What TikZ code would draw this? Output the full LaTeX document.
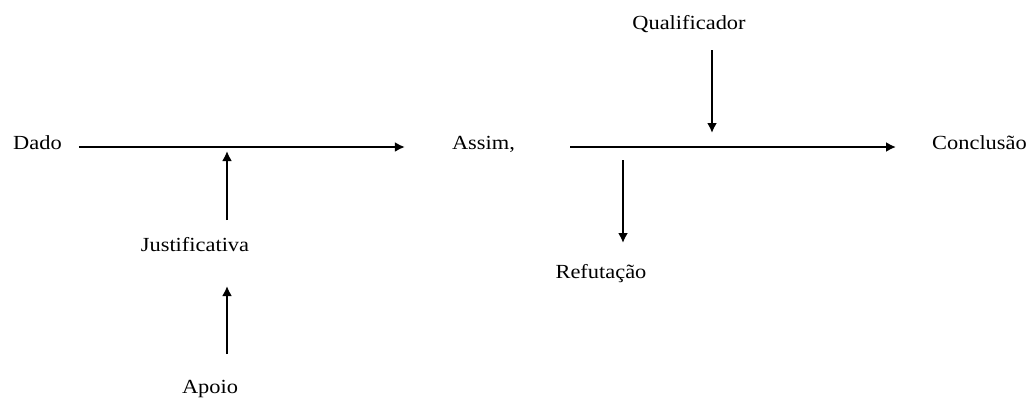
\documentclass[tikz,border=0pt]{standalone}
\usepackage{fontspec}
\setmainfont[FakeStretch=1.12]{Liberation Serif}
\usetikzlibrary{arrows.meta}
\begin{document}
\begin{tikzpicture}[x=1pt,y=-1pt,
  lbl/.style={inner sep=0pt,font=\fontsize{20}{22}\selectfont,text height=0.68em,text depth=0.22em},
  arr/.style={line width=2pt,-{Latex[length=10pt,width=10pt]}}]
\useasboundingbox (0,0) rectangle (1029,402);
\node[lbl] (dado) at (37.5,147) {Dado};
\node[lbl] (assim) at (483.5,147) {Assim,};
\node[lbl] (concl) at (979.5,147) {Conclusão};
\node[lbl] (qual) at (689,27) {Qualificador};
\node[lbl] (refut) at (601,276) {Refutação};
\node[lbl] (just) at (195,249) {Justificativa};
\node[lbl] (apoio) at (210,391) {Apoio};
\coordinate (q1) at (712,50);
\coordinate (q2) at (712,133);
\coordinate (r1) at (623,160);
\coordinate (r2) at (623,243);
\coordinate (j1) at (227,220);
\coordinate (j2) at (227,151);
\coordinate (a1) at (227,354);
\coordinate (a2) at (227,286);
\draw[arr] ([xshift=17pt]dado.east) -- ([xshift=-47pt]assim.west);
\draw[arr] ([xshift=55pt]assim.east) -- ([xshift=-36pt]concl.west);
\draw[arr] (q1) -- (q2);
\draw[arr] (r1) -- (r2);
\draw[arr] (j1) -- (j2);
\draw[arr] (a1) -- (a2);
\end{tikzpicture}
\end{document}
